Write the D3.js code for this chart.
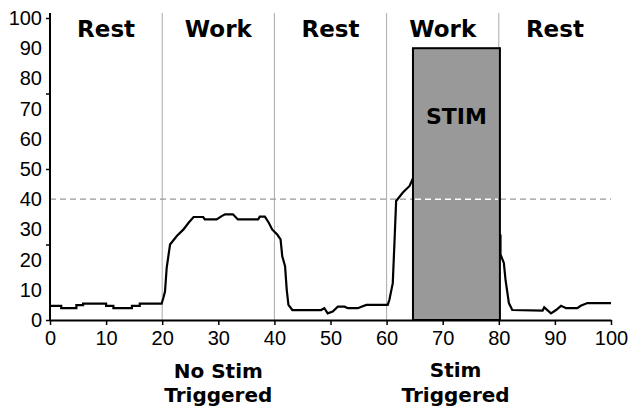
<!DOCTYPE html>
<html>
<head>
<meta charset="utf-8">
<script src="https://cdn.jsdelivr.net/npm/d3@7/dist/d3.min.js"></script>
<style>
  html, body { margin: 0; padding: 0; background: #fff; }
  svg { display: block; }
  .tick-label { font-family: "Liberation Sans", Arial, sans-serif; font-size: 20px; fill: #000; }
  .bold-label { font-family: "DejaVu Sans", sans-serif; font-weight: bold; fill: #000; }
</style>
</head>
<body>
<script>
// ---- Data ----
const xTicks = [0, 10, 20, 30, 40, 50, 60, 70, 80, 90, 100];
const yTickLabels = [0, 10, 20, 30, 40, 50, 60, 70, 80, 90, 100];
const yTickMarks = [0, 25, 50, 75, 100];
const phaseBounds = [20, 40, 60, 80];
const phaseLabels = ["Rest", "Work", "Rest", "Work", "Rest"];
const phaseCenters = [10, 30, 50, 70, 90];
const threshold = 40;
const stimStart = 64.7;
const stimEnd = 80.2;
const stimTop = 90;
const stimLabel = "STIM";
const bottomLabels = [["No Stim", "Triggered"], ["Stim", "Triggered"]];
const bottomCenters = [30, 72.3];

const signalX = [0, 2, 2, 4.7, 4.7, 5.9, 5.9, 10, 10, 11.3, 11.3, 14.6, 14.6, 16, 16, 19.9,
  20.2, 20.5, 20.8, 21.4, 22.6, 23.8, 24.7, 25.6, 27.3, 27.6, 29.7, 30.6, 31.2, 32.6, 33.5,
  37.1, 37.4, 38.3, 39, 39.6, 40.5, 41.1, 41.4, 41.9, 42.2, 42.5, 43.2, 48.3, 48.9, 49.5,
  50.4, 51.3, 52.5, 53.1, 54.9, 55.5, 56.4, 60.2, 60.5, 61.1, 61.4, 61.7, 62.9, 64.1, 64.7,
  72, 80.3, 80.3, 80.9, 81.2, 81.8, 82.4, 87.8, 88.1, 89.3, 90.2, 91.1, 92, 94, 94.6, 95.8, 100];
const signalY = [4.7, 4.7, 3.9, 3.9, 4.9, 4.9, 5.4, 5.4, 4.7, 4.7, 3.9, 3.9, 4.7, 4.7, 5.4, 5.4,
  7.3, 9.4, 17.3, 25, 27.8, 30, 32.2, 34.1, 34.1, 33.3, 33.3, 34.4, 35, 35, 33.3,
  33.3, 34.2, 34.2, 32.2, 30, 28.3, 26.7, 21.1, 17.8, 10, 5, 3.3, 3.3, 3.9, 2.2,
  2.8, 4.4, 4.4, 3.9, 3.9, 4.4, 5, 5, 6.7, 12.2, 25.6, 39.4, 42.2, 44.4, 47,
  null, 28.3, 21.7, 18.9, 13.3, 5.6, 3.3, 3.1, 4.2, 2.2, 3.3, 4.7, 3.9, 3.9, 4.7, 5.6, 5.6];

// ---- Chart ----
const W = 631, H = 410;
const svg = d3.select("body").append("svg").attr("width", W).attr("height", H);

const x = d3.scaleLinear().domain([0, 100]).range([50, 611]);
const y = d3.scaleLinear().domain([0, 100]).range([320, 18]);
const yTop = 13;

// phase separators
svg.append("g").selectAll("line").data(phaseBounds).join("line")
  .attr("x1", d => x(d)).attr("x2", d => x(d))
  .attr("y1", yTop).attr("y2", y(0))
  .attr("stroke", "#aaa").attr("stroke-width", 1);

// threshold line (gray)
svg.append("line")
  .attr("x1", x(0)).attr("x2", x(100))
  .attr("y1", y(threshold)).attr("y2", y(threshold))
  .attr("stroke", "#999").attr("stroke-width", 1.2)
  .attr("stroke-dasharray", "6,4");

// signal
const pts = signalX.map((v, i) => [v, signalY[i]]);
const line = d3.line().defined(d => d[1] !== null).x(d => x(d[0])).y(d => y(d[1]));
svg.append("path").datum(pts)
  .attr("d", line)
  .attr("fill", "none").attr("stroke", "#000").attr("stroke-width", 2.2)
  .attr("stroke-linejoin", "miter");

// stim box
svg.append("rect")
  .attr("x", x(stimStart)).attr("y", y(stimTop))
  .attr("width", x(stimEnd) - x(stimStart))
  .attr("height", y(0) - y(stimTop))
  .attr("fill", "#999").attr("stroke", "#000").attr("stroke-width", 2);

// threshold over stim box (white)
svg.append("line")
  .attr("x1", x(stimStart) + 2).attr("x2", x(stimEnd) - 2)
  .attr("y1", y(threshold)).attr("y2", y(threshold))
  .attr("stroke", "#fff").attr("stroke-width", 1.5)
  .attr("stroke-dasharray", "6,4");

svg.append("text").attr("class", "bold-label")
  .attr("x", x((stimStart + stimEnd) / 2)).attr("y", 124)
  .attr("text-anchor", "middle").attr("font-size", 22)
  .text(stimLabel);

// phase labels
svg.append("g").selectAll("text").data(phaseLabels).join("text")
  .attr("class", "bold-label")
  .attr("x", (d, i) => x(phaseCenters[i]))
  .attr("y", 37)
  .attr("text-anchor", "middle").attr("font-size", 23)
  .text(d => d);

// x axis
const xAxis = d3.axisBottom(x).tickValues(xTicks).tickSize(5).tickSizeOuter(0).tickFormat(d3.format("d"));
const gx = svg.append("g").attr("transform", `translate(0,${y(0)})`).call(xAxis);
gx.attr("font-family", null).attr("font-size", null);
gx.select(".domain").attr("stroke", "#000").attr("stroke-width", 2);
gx.selectAll(".tick line").attr("stroke", "#000").attr("stroke-width", 1.5);
gx.selectAll(".tick text").attr("class", "tick-label")
  .attr("y", 11).attr("dy", "0.71em");

// y axis: marks
const yAxis = d3.axisLeft(y).tickValues(yTickMarks).tickSize(4).tickSizeOuter(0).tickFormat("");
const gy = svg.append("g").attr("transform", `translate(${x(0)},0)`).call(yAxis);
gy.select(".domain").remove();
gy.selectAll(".tick line").attr("stroke", "#000").attr("stroke-width", 1.5);
svg.append("line")
  .attr("x1", x(0)).attr("x2", x(0)).attr("y1", yTop).attr("y2", y(0) + 1)
  .attr("stroke", "#000").attr("stroke-width", 2);

// y labels
svg.append("g").selectAll("text").data(yTickLabels).join("text")
  .attr("class", "tick-label")
  .attr("x", 42)
  .attr("y", d => y(d) + 7)
  .attr("text-anchor", "end")
  .text(d => d);

// bottom labels (one text per line)
bottomLabels.forEach((lines, i) => {
  lines.forEach((s, j) => {
    svg.append("text").attr("class", "bold-label")
      .attr("text-anchor", "middle").attr("font-size", 20)
      .attr("x", x(bottomCenters[i]))
      .attr("y", (i === 0 ? 378 : 377) + j * (i === 0 ? 24 : 25))
      .text(s);
  });
});
</script>
</body>
</html>
